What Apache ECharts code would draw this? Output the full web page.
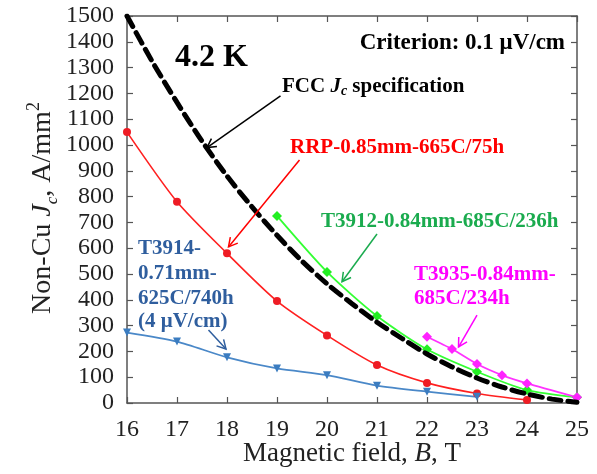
<!DOCTYPE html>
<html><head><meta charset="utf-8">
<script src="https://cdn.jsdelivr.net/npm/echarts@6/dist/echarts.min.js"></script>
<style>html,body{margin:0;padding:0;background:#fff}#c{width:597px;height:474px}</style>
</head><body><div id="c"></div>
<script>
// ---- data ----
const fccB  = [16,16.5,17,17.5,18,18.5,19,19.5,20,20.5,21,21.5,22,22.5,23,23.5,24,24.5,25];
const fccJc = [1500,1325,1165,1015,880,760,650,550,462,385,313,250,190,140,97,62,35,15,3];
const rrpB  = [16,17,18,19,20,21,22,23,24];
const rrpJc = [1050,780,580,395,262,147,78,37,12];
const t3912B  = [19,20,21,22,23,24,25];
const t3912Jc = [725,508,337,208,121,50,22];
const t3935B  = [22,22.5,23,23.5,24,25];
const t3935Jc = [257,209,151,108,76,22];
const t3914B  = [16,17,18,19,20,21,22,23];
const t3914Jc = [273,238,177,134,108,67,44,24];
const xTicks = {min:16, max:25, step:1};
const yTicks = {min:0, max:1500, step:100};
// annotation arrows: [tailB, tailJc, tipB, tipJc]
const arrowFCC   = [19.07,1190,17.6,990];
const arrowRRP   = [19.45,942,18.03,605];
const arrowT3912 = [21.0,655,20.3,470];
const arrowT3935 = [23.0,341,22.63,217];
const arrowT3914 = [17.63,283,17.98,209];

const pairs = (xs, ys) => xs.map((x,i)=>[x, ys[i]]);
const FONT = 'Liberation Serif';
const axisCol = '#555';

const chart = echarts.init(document.getElementById('c'), null, {renderer:'canvas'});
const baseX = {type:'value', min:xTicks.min, max:xTicks.max, interval:xTicks.step,
  axisLine:{show:true, onZero:false, lineStyle:{color:axisCol, width:1.5}},
  axisTick:{show:true, inside:true, length:6, lineStyle:{color:axisCol, width:1.2}},
  splitLine:{show:false}};
const baseY = {type:'value', min:yTicks.min, max:yTicks.max, interval:yTicks.step,
  axisLine:{show:true, onZero:false, lineStyle:{color:axisCol, width:1.5}},
  axisTick:{show:true, inside:true, length:6, lineStyle:{color:axisCol, width:1.2}},
  splitLine:{show:false}};
const numFmt = v => String(v);

const option = {
  animation:false,
  backgroundColor:'#fff',
  textStyle:{fontFamily:FONT},
  grid:{left:127, right:20, top:16, bottom:71, containLabel:false, outerBoundsMode:'none'},
  xAxis:[
    Object.assign({}, baseX, {position:'bottom',
      axisLabel:{fontFamily:FONT, fontSize:24, color:'#222', margin:15, formatter:numFmt},
      name:'{n|Magnetic field, }{i|B}{n|, T}', nameLocation:'middle', nameGap:37, nameMoveOverlap:false,
      nameTextStyle:{fontFamily:FONT, rich:{n:{fontFamily:FONT, fontSize:27, color:'#222'}, i:{fontFamily:FONT, fontSize:27, fontStyle:'italic', color:'#222'}}}}),
    Object.assign({}, baseX, {position:'top', axisLabel:{show:false}})
  ],
  yAxis:[
    Object.assign({}, baseY, {position:'left',
      axisLabel:{fontFamily:FONT, fontSize:24, color:'#222', margin:13, formatter:numFmt}}),
    Object.assign({}, baseY, {position:'right', axisLabel:{show:false}})
  ],
  series:[
    {name:'FCC', type:'line', data:pairs(fccB,fccJc), smooth:0.3, showSymbol:false, symbol:'none',
      lineStyle:{color:'#000', width:5, type:[12,7], cap:'round'}, z:5},
    {name:'RRP', type:'line', data:pairs(rrpB,rrpJc), smooth:0.25, symbol:'circle', symbolSize:8,
      itemStyle:{color:'#ee1c24'}, lineStyle:{color:'#ff2020', width:1.6}, z:3},
    {name:'T3912', type:'line', data:pairs(t3912B,t3912Jc), smooth:0.25, symbol:'diamond', symbolSize:10,
      itemStyle:{color:'#22ee22'}, lineStyle:{color:'#33ff33', width:1.8}, z:3},
    {name:'T3935', type:'line', data:pairs(t3935B,t3935Jc), smooth:0.2, symbol:'diamond', symbolSize:10,
      itemStyle:{color:'#ff22ff'}, lineStyle:{color:'#ff33ff', width:1.8}, z:3},
    {name:'T3914', type:'line', data:pairs(t3914B,t3914Jc), smooth:0.25, symbol:'triangle', symbolRotate:180, symbolSize:8,
      itemStyle:{color:'#3b7cc0'}, lineStyle:{color:'#4a88c8', width:1.8}, z:3}
  ]
};
chart.setOption(option);

function arrow(a, color, w){
  const p0 = chart.convertToPixel({xAxisIndex:0, yAxisIndex:0}, [a[0],a[1]]);
  const p1 = chart.convertToPixel({xAxisIndex:0, yAxisIndex:0}, [a[2],a[3]]);
  const ang = Math.atan2(p1[1]-p0[1], p1[0]-p0[0]);
  const L = 10, spread = 0.5;
  const h1 = [p1[0]-L*Math.cos(ang-spread), p1[1]-L*Math.sin(ang-spread)];
  const h2 = [p1[0]-L*Math.cos(ang+spread), p1[1]-L*Math.sin(ang+spread)];
  return [
    {type:'line', shape:{x1:p0[0],y1:p0[1],x2:p1[0],y2:p1[1]}, style:{stroke:color, lineWidth:w}, z:10},
    {type:'polyline', shape:{points:[h1,p1,h2]}, style:{stroke:color, lineWidth:w, fill:null}, z:10}
  ];
}
function txt(x, y, text, rich, align){
  return {type:'text', x:x, y:y, z:11, style:{text:text, rich:rich, align:align||'left', verticalAlign:'middle', fontFamily:FONT}};
}
const B = (c, s) => ({fontFamily:FONT, fontWeight:'bold', fontSize:s||21, fill:c});
const blue = '#2f5e9e', green = '#1aab4e', mag = '#ff00ff', red = '#ff0000';
const yName = txt(0, 0, '{n|Non-Cu }{i|J}{s|c}{n|, A/mm}{p|2}', {
  n:{fontFamily:FONT, fontSize:28, fill:'#222', lineHeight:36},
  i:{fontFamily:FONT, fontSize:28, fontStyle:'italic', fill:'#222', lineHeight:36},
  s:{fontFamily:FONT, fontSize:17, fontStyle:'italic', fill:'#222', lineHeight:36, verticalAlign:'bottom', padding:[10,0,0,0]},
  p:{fontFamily:FONT, fontSize:18, fill:'#222', lineHeight:36, verticalAlign:'top', padding:[0,0,12,0]}
}, 'center');
yName.x = 43; yName.y = 208; yName.rotation = Math.PI/2;
const graphics = [].concat(
  arrow(arrowFCC, '#000', 1.5),
  arrow(arrowRRP, red, 1.5),
  arrow(arrowT3912, green, 1.5),
  arrow(arrowT3935, mag, 1.5),
  arrow(arrowT3914, blue, 1.5),
  [
    yName,
    txt(175, 58, '{a|4.2 K}', {a:B('#000', 32)}),
    txt(565, 43, '{a|Criterion: 0.1 μV/cm}', {a:B('#000', 23)}, 'right'),
    txt(282, 87, '{a|FCC }{i|J}{s|c}{a| specification}', {a:B('#000',21),
      i:Object.assign(B('#000',21),{fontStyle:'italic'}),
      s:Object.assign(B('#000',14),{fontStyle:'italic', verticalAlign:'bottom', padding:[9,0,0,0]})}),
    txt(290, 148, '{a|RRP-0.85mm-665C/75h}', {a:B(red,21)}),
    txt(321, 222, '{a|T3912-0.84mm-685C/236h}', {a:B(green,21)}),
    txt(414, 275, '{a|T3935-0.84mm-}', {a:B(mag,21)}),
    txt(414, 299, '{a|685C/234h}', {a:B(mag,21)}),
    txt(138, 249, '{a|T3914-}', {a:B(blue,21)}),
    txt(138, 274, '{a|0.71mm-}', {a:B(blue,21)}),
    txt(138, 299, '{a|625C/740h}', {a:B(blue,21)}),
    txt(138, 322, '{a|(4 μV/cm)}', {a:B(blue,21)})
  ]
);
chart.setOption({graphic:graphics});
</script>
</body></html>
